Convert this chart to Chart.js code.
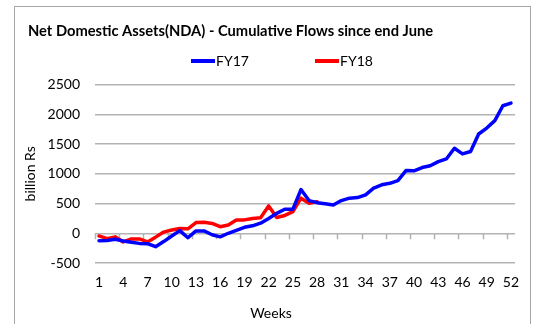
<!DOCTYPE html>
<html>
<head>
<meta charset="utf-8">
<title>Net Domestic Assets (NDA)</title>
<script src="https://cdn.jsdelivr.net/npm/chart.js@4"></script>
<style>
  body { margin: 0; background: #fff; }
  canvas { display: block; }
</style>
</head>
<body>
<canvas id="ndaChart" width="537" height="324"></canvas>
<script>
// weekly cumulative NDA flows since end June, billion Rs
const weeks = Array.from({ length: 52 }, (_, i) => i + 1);
const fy17 = [-125, -120, -100, -130, -150, -170, -175, -225, -140, -45,
              45, -75, 40, 40, -25, -60, 0, 50, 100, 125,
              170, 250, 335, 405, 405, 735, 550, 515, 495, 475,
              550, 590, 600, 645, 760, 815, 840, 885, 1055, 1050,
              1105, 1135, 1205, 1250, 1430, 1335, 1375, 1670, 1770, 1895,
              2145, 2190];
const fy18 = [-45, -90, -60, -145, -95, -95, -145, -65, 20, 55,
              80, 75, 180, 185, 165, 110, 140, 225, 225, 250,
              260, 460, 265, 300, 365, 590, 505, 530];
const seriesNames = ["FY17", "FY18"];
const seriesColors = ["#0000ff", "#ff0000"];
const yMin = -500, yMax = 2500, yStep = 500;
const labelEvery = 3;

const FONT = "Lato, 'Open Sans', sans-serif";
const GRID = "#b3b3b3";

// outer frame, legend and the x axis title
const decorations = {
  id: "decorations",
  beforeDraw(chart) {
    const ctx = chart.ctx;
    ctx.save();
    ctx.fillStyle = "#fff";
    ctx.fillRect(0, 0, chart.width, chart.height);
    ctx.strokeStyle = "#a6a6a6";
    ctx.lineWidth = 1;
    ctx.strokeRect(14.5, 6.5, 516, 340);
    ctx.restore();
  },
  beforeDatasetsDraw(chart) {
    // tick marks on the horizontal axis, which sits at zero
    const ctx = chart.ctx;
    const x = chart.scales.x, y = chart.scales.y;
    const step = x.width / weeks.length;
    const y0 = y.getPixelForValue(0);
    ctx.save();
    ctx.strokeStyle = GRID;
    ctx.lineWidth = 1.5;
    ctx.beginPath();
    for (let k = 0; k < weeks.length; k += labelEvery) {
      const px = Math.round(x.left + k * step) + 0.5;
      ctx.moveTo(px, y0);
      ctx.lineTo(px, y0 + 6);
    }
    ctx.stroke();
    ctx.restore();
  },
  afterDraw(chart) {
    const ctx = chart.ctx;
    ctx.save();
    ctx.font = "14px " + FONT;
    ctx.fillStyle = "#000";
    ctx.textBaseline = "middle";
    // legend
    const starts = [191, 315];
    chart.data.datasets.forEach((ds, i) => {
      ctx.strokeStyle = ds.borderColor;
      ctx.lineWidth = 4;
      ctx.beginPath();
      ctx.moveTo(starts[i], 61);
      ctx.lineTo(starts[i] + 24, 61);
      ctx.stroke();
      ctx.textAlign = "left";
      ctx.fillText(ds.label, starts[i] + 25, 61);
    });
    // x axis title
    ctx.textAlign = "center";
    ctx.fillText("Weeks", 271, 313);
    ctx.restore();
  }
};

new Chart(document.getElementById("ndaChart"), {
  type: "line",
  data: {
    labels: weeks,
    datasets: [fy17, fy18].map((vals, i) => ({
      label: seriesNames[i],
      data: vals,
      borderColor: seriesColors[i],
      backgroundColor: seriesColors[i],
      borderWidth: 3.5,
      borderJoinStyle: "round",
      borderCapStyle: "round",
      pointRadius: 0,
      tension: 0
    }))
  },
  options: {
    responsive: false,
    animation: false,
    layout: { padding: { left: 28, right: 22, top: 0, bottom: 0 } },
    plugins: {
      legend: { display: false },
      tooltip: { enabled: false },
      title: {
        display: true,
        text: "Net Domestic Assets(NDA) - Cumulative Flows since end June",
        align: "start",
        color: "#000",
        font: { family: FONT, size: 14.7, weight: "bold" },
        padding: { top: 22, bottom: 45 }
      }
    },
    scales: {
      x: {
        type: "category",
        offset: true,
        grid: { display: false, drawTicks: false },
        border: { display: false },
        ticks: {
          autoSkip: false,
          maxRotation: 0,
          padding: 11,
          color: "#000",
          font: { family: FONT, size: 14 },
          callback: (v, i) => (i % labelEvery === 0 ? weeks[i] : "")
        },
        afterFit: s => { s.height = 61; }
      },
      y: {
        min: yMin,
        max: yMax,
        grid: { color: GRID, lineWidth: 1.5, drawTicks: false },
        border: { display: false },
        ticks: {
          stepSize: yStep,
          padding: 15,
          color: "#000",
          font: { family: FONT, size: 14 },
          callback: v => String(v)
        },
        title: {
          display: true,
          text: "billion Rs",
          color: "#000",
          font: { family: FONT, size: 14 },
          padding: { top: -6, bottom: 0 }
        },
        afterFit: s => { s.width = 67; }
      }
    }
  },
  plugins: [decorations]
});
</script>
</body>
</html>
